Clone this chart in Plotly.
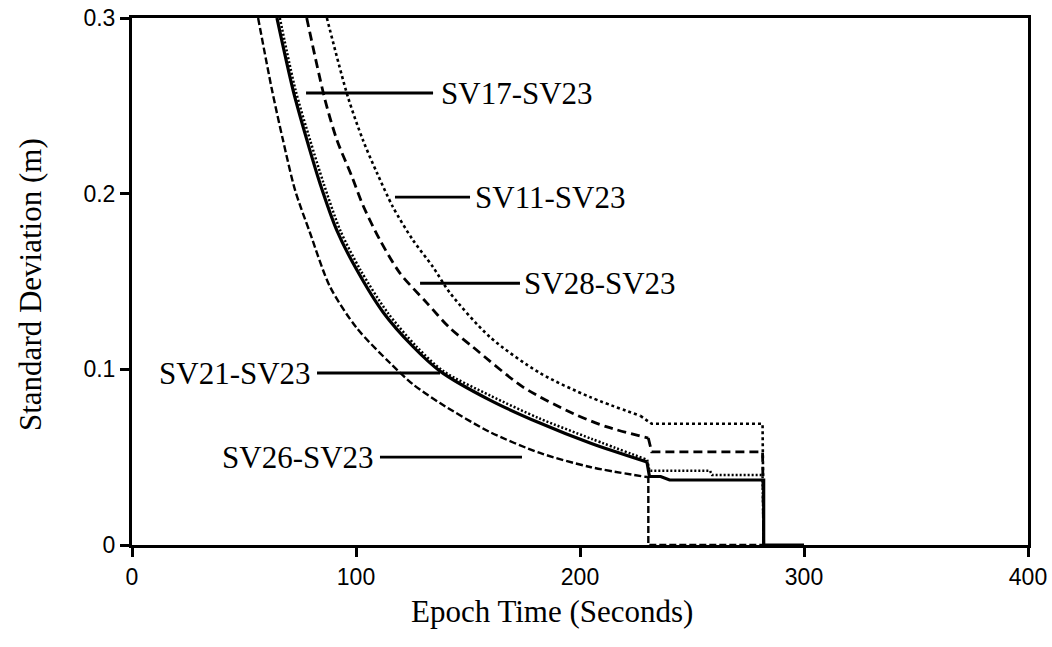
import plotly.graph_objects as go

# ---- data ----
sv26_x = [56.3, 62.5, 67.4, 72.8, 79.5, 88.4, 100.4, 115.2, 125.4, 137.5, 159.8, 182.1, 204.5, 229.9, 230.5, 230.5, 282]
sv26_y = [0.300, 0.259, 0.2305, 0.202, 0.1776, 0.147, 0.1234, 0.1036, 0.0915, 0.0808, 0.0643, 0.0524, 0.0444, 0.0387, 0.0385, 0, 0]

sv21_x = [64.7, 71.9, 78.1, 83.9, 91.5, 100.4, 112.1, 125.4, 137.5, 159.8, 182.1, 204.5, 229.9, 231, 236, 240, 282, 282, 300]
sv21_y = [0.300, 0.259, 0.2305, 0.206, 0.179, 0.1565, 0.1325, 0.1130, 0.0990, 0.0825, 0.0694, 0.058, 0.0472, 0.039, 0.039, 0.037, 0.037, 0, 0]

sv17_x = [66.0, 73.0, 79.5, 85.5, 93.0, 102.0, 114.0, 127.0, 139.0, 160, 182, 205, 230, 231, 258, 259, 281.5, 282]
sv17_y = [0.300, 0.259, 0.2305, 0.206, 0.179, 0.1565, 0.1325, 0.1130, 0.0990, 0.085, 0.072, 0.0605, 0.0485, 0.0423, 0.0423, 0.0398, 0.0398, 0]

sv28_x = [78.0, 86.2, 91.5, 98.2, 103.1, 110.7, 119.6, 131.7, 142.0, 152.2, 174.6, 196.9, 212.1, 230.5, 232, 281.5, 282]
sv28_y = [0.300, 0.2533, 0.2305, 0.2097, 0.1934, 0.1736, 0.1548, 0.1377, 0.1234, 0.1127, 0.0899, 0.0749, 0.0672, 0.0609, 0.053, 0.053, 0]

sv11_x = [87.0, 96.4, 103.1, 109.4, 116.5, 125.4, 134.4, 142.0, 159.8, 182.1, 204.5, 227, 232, 281.5, 282]
sv11_y = [0.300, 0.255, 0.2305, 0.2117, 0.1924, 0.1736, 0.1582, 0.1434, 0.1184, 0.0979, 0.0842, 0.0735, 0.069, 0.069, 0]

# number of leading points forming the smooth decay (rest is the step tail)
curve_len = {"SV26-SV23": 14, "SV21-SV23": 13, "SV17-SV23": 13, "SV28-SV23": 14, "SV11-SV23": 12}

x_ticks = [0, 100, 200, 300, 400]
y_ticks = [0, 0.1, 0.2, 0.3]
y_tick_labels = ["0", "0.1", "0.2", "0.3"]

# label name, pointer-line x0, x1, y, text x, text anchor
labels = [
    ("SV17-SV23", 77.7, 134.4, 0.2573, 137.0, "left"),
    ("SV11-SV23", 117.4, 150.9, 0.198, 152.3, "left"),
    ("SV28-SV23", 128.6, 173.2, 0.149, 174.2, "left"),
    ("SV21-SV23", 82.6, 137.5, 0.0979, 81.0, "right"),
    ("SV26-SV23", 110.7, 174.1, 0.050, 109.0, "right"),
]

fig = go.Figure()
styles = [
    (sv26_x, sv26_y, "SV26-SV23", "7px,3px", 2.4),
    (sv21_x, sv21_y, "SV21-SV23", "solid", 3.2),
    (sv17_x, sv17_y, "SV17-SV23", "2px,2px", 2.5),
    (sv28_x, sv28_y, "SV28-SV23", "9px,5px", 2.8),
    (sv11_x, sv11_y, "SV11-SV23", "3px,3px", 2.6),
]
for xs, ys, name, dash, w in styles:
    n = curve_len[name]
    fig.add_trace(go.Scatter(x=xs[:n], y=ys[:n], mode="lines", name=name,
                             line=dict(color="black", width=w, dash=dash, shape="spline", smoothing=0.8),
                             showlegend=False))
    fig.add_trace(go.Scatter(x=xs[n - 1:], y=ys[n - 1:], mode="lines", name=name,
                             line=dict(color="black", width=w, dash=dash),
                             showlegend=False))

serif = "Liberation Serif, Times New Roman, serif"
sans = "Liberation Sans, Arial, sans-serif"

for name, x0, x1, y, tx, anchor in labels:
    fig.add_shape(type="line", x0=x0, x1=x1, y0=y, y1=y, xref="x", yref="y",
                  line=dict(color="black", width=2.8))
    fig.add_annotation(x=tx, y=y, xref="x", yref="y", text=name, showarrow=False,
                       xanchor=anchor, yanchor="middle",
                       font=dict(family=serif, size=31, color="black"))

fig.add_annotation(x=0.469, y=-0.127, xref="paper", yref="paper", text="Epoch Time (Seconds)",
                   showarrow=False, xanchor="center", yanchor="middle",
                   font=dict(family=serif, size=31, color="black"))
fig.add_annotation(x=-0.114, y=0.495, xref="paper", yref="paper", text="Standard Deviation (m)",
                   showarrow=False, textangle=-90, xanchor="center", yanchor="middle",
                   font=dict(family=serif, size=31, color="black"))

axis_common = dict(showgrid=False, zeroline=False, showline=True, linecolor="black",
                   linewidth=3, mirror=True, ticks="outside", ticklen=9, tickwidth=2.5,
                   tickcolor="black", automargin=False,
                   tickfont=dict(family=sans, size=23, color="black"))

fig.update_xaxes(range=[0, 400], tickvals=x_ticks, ticktext=[str(v) for v in x_ticks], **axis_common)
fig.update_yaxes(range=[0, 0.3], tickvals=y_ticks, ticktext=y_tick_labels, **axis_common)

fig.update_layout(width=1052, height=647, margin=dict(l=132, r=24, t=18, b=102, autoexpand=False),
                  paper_bgcolor="white", plot_bgcolor="white")

fig.write_html("out.html")
